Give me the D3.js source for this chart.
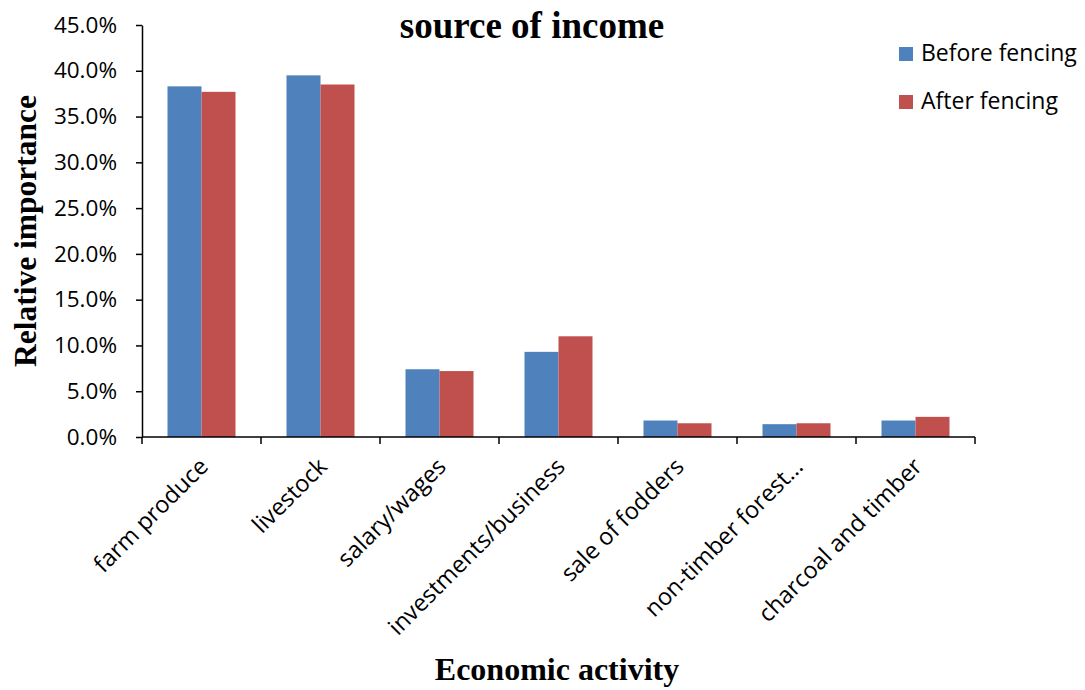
<!DOCTYPE html>
<html>
<head>
<meta charset="utf-8">
<script src="https://cdn.jsdelivr.net/npm/d3@7"></script>
<style>
  body { margin: 0; background: #fff; }
  .tick text { font-family: "Open Sans", Lato, sans-serif; }
</style>
</head>
<body>
<div id="chart"></div>
<script>
// data
const categories = ["farm produce", "livestock", "salary/wages", "investments/business",
                    "sale of fodders", "non-timber forest…", "charcoal and timber"];
const beforeFencing = [0.383, 0.395, 0.074, 0.093, 0.018, 0.014, 0.018];
const afterFencing  = [0.377, 0.385, 0.072, 0.110, 0.015, 0.015, 0.022];
const seriesNames = ["Before fencing", "After fencing"];
const seriesColors = ["#4f81bd", "#c0504d"];
const yTicks = [0, 0.05, 0.10, 0.15, 0.20, 0.25, 0.30, 0.35, 0.40, 0.45];

const width = 1085, height = 690;
const margin = {top: 25, right: 110, bottom: 253, left: 142};
const innerW = width - margin.left - margin.right,
      innerH = height - margin.top - margin.bottom;

const svg = d3.select("#chart").append("svg")
    .attr("width", width)
    .attr("height", height);

const g = svg.append("g")
    .attr("transform", `translate(${margin.left},${margin.top})`);

const x = d3.scaleBand()
    .domain(categories)
    .range([0, innerW])
    .paddingInner(0)
    .paddingOuter(0);

const xSub = d3.scaleBand()
    .domain(seriesNames)
    .range([0, x.bandwidth()])
    .paddingInner(0)
    .paddingOuter(0.75);

const y = d3.scaleLinear()
    .domain([0, 0.45])
    .range([innerH, 0]);

const rows = categories.map((c, i) => ({cat: c, vals: [beforeFencing[i], afterFencing[i]]}));

// bars
const groups = g.selectAll("g.cat")
    .data(rows)
    .join("g")
    .attr("class", "cat")
    .attr("transform", d => `translate(${x(d.cat)},0)`);

groups.selectAll("rect")
    .data(d => d.vals.map((v, j) => ({name: seriesNames[j], v: v, j: j})))
    .join("rect")
    .attr("x", d => xSub(d.name))
    .attr("y", d => y(d.v))
    .attr("width", xSub.bandwidth())
    .attr("height", d => innerH - y(d.v))
    .style("fill", d => seriesColors[d.j]);

// y axis
const yAxis = g.append("g")
    .call(d3.axisLeft(y).tickValues(yTicks).tickFormat(d3.format(".1%")).tickSize(6).tickSizeOuter(0));
yAxis.select(".domain").attr("stroke", "#000").attr("stroke-width", 1.5);
yAxis.selectAll(".tick line").attr("stroke", "#000").attr("stroke-width", 1.5);
yAxis.selectAll(".tick text")
    .attr("x", -25)
    .style("font-size", "22.5px")
    .attr("fill", "#000");

// x axis: ticks between categories
const xAxis = g.append("g")
    .attr("transform", `translate(0,${innerH})`);
xAxis.append("line")
    .attr("x1", 0).attr("x2", innerW)
    .attr("stroke", "#000").attr("stroke-width", 1.5);
xAxis.selectAll("line.sep")
    .data(d3.range(categories.length + 1))
    .join("line")
    .attr("class", "sep")
    .attr("x1", i => i * x.step()).attr("x2", i => i * x.step())
    .attr("y1", 0).attr("y2", 7)
    .attr("stroke", "#000").attr("stroke-width", 1.5);
xAxis.selectAll("text")
    .data(categories)
    .join("text")
    .attr("transform", d => `translate(${x(d) + x.bandwidth() / 2 + 8},${31}) rotate(-45)`)
    .attr("text-anchor", "end")
    .style("font-family", "'Open Sans', Lato, sans-serif")
    .style("font-size", "23.5px")
    .text(d => d);

// title and axis labels
svg.append("text")
    .attr("x", 532).attr("y", 38)
    .attr("text-anchor", "middle")
    .style("font-family", "'Liberation Serif', 'Times New Roman', serif")
    .style("font-weight", "bold")
    .style("font-size", "37px")
    .text("source of income");

svg.append("text")
    .attr("transform", `translate(36,231) rotate(-90)`)
    .attr("text-anchor", "middle")
    .style("font-family", "'Liberation Serif', 'Times New Roman', serif")
    .style("font-weight", "bold")
    .style("font-size", "31.5px")
    .text("Relative importance");

svg.append("text")
    .attr("x", 557).attr("y", 680)
    .attr("text-anchor", "middle")
    .style("font-family", "'Liberation Serif', 'Times New Roman', serif")
    .style("font-weight", "bold")
    .style("font-size", "32px")
    .text("Economic activity");

// legend
const legend = svg.append("g")
    .attr("transform", "translate(899,47)");
const items = legend.selectAll("g")
    .data(seriesNames)
    .join("g")
    .attr("transform", (d, i) => `translate(0,${i * 48})`);
items.append("rect")
    .attr("width", 14).attr("height", 14)
    .style("fill", (d, i) => seriesColors[i]);
items.append("text")
    .attr("x", 22).attr("y", 14)
    .style("font-family", "'Open Sans', Lato, sans-serif")
    .style("font-size", "23px")
    .text(d => d);
</script>
</body>
</html>
